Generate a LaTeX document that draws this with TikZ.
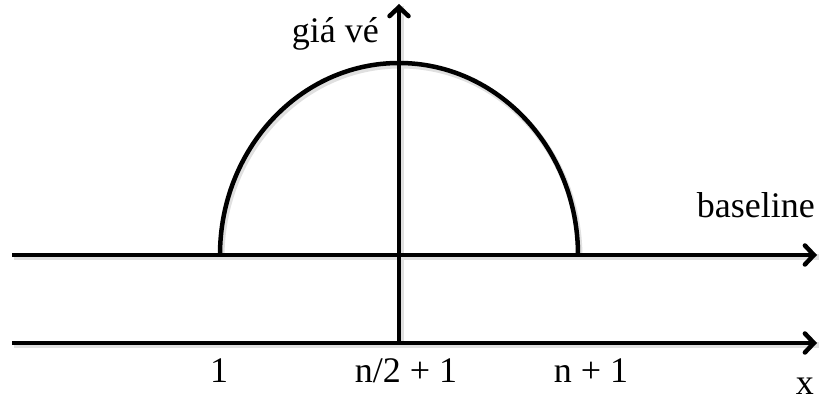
\documentclass[tikz,border=0pt]{standalone}
\usepackage{fontspec}
\setmainfont{Liberation Serif}
\usetikzlibrary{arrows.meta}

\tikzset{
  axis/.style={line width=4.5pt, -{Straight Barb[length=9pt,width=19pt,line cap=round]}},
  curve/.style={line width=4.5pt},
  shadowline/.style={black!12, line width=6pt},
  lbl/.style={font=\fontsize{36}{38}\selectfont, inner sep=0pt}
}

\begin{document}
\begin{tikzpicture}[x=1pt, y=1pt]
  \useasboundingbox (0,0) rectangle (820,404);

  \coordinate (bl) at (12,149);
  \coordinate (br) at (817,149);
  \coordinate (xl) at (12,61);
  \coordinate (xr) at (817,61);
  \coordinate (yb) at (399,61);
  \coordinate (yt) at (399,400);
  \coordinate (a) at (220,149);

  % soft shadow first
  \begin{scope}[transform canvas={shift={(1.5pt,-2.5pt)}}]
    \draw[shadowline] (a) arc[start angle=180, end angle=0, x radius=179, y radius=192];
    \draw[shadowline] (bl) -- (br);
    \draw[shadowline] (xl) -- (xr);
    \draw[shadowline] (yb) -- (yt);
  \end{scope}

  \draw[curve] (a) arc[start angle=180, end angle=0, x radius=179, y radius=192];
  \draw[axis] (bl) -- (br);
  \draw[axis] (xl) -- (xr);
  \draw[axis] (yb) -- (yt);

  \node[lbl, anchor=base east] (price) at (379,361) {giá vé};
  \node[lbl, anchor=base east] (base) at (815,186) {baseline};
  \node[lbl, anchor=base] (one) at (219,21) {1};
  \node[lbl, anchor=base] (mid) at (406,21) {n/2 + 1};
  \node[lbl, anchor=base] (last) at (591,21) {n + 1};
  \node[lbl, anchor=base east] (x) at (814,9) {x};
\end{tikzpicture}
\end{document}
